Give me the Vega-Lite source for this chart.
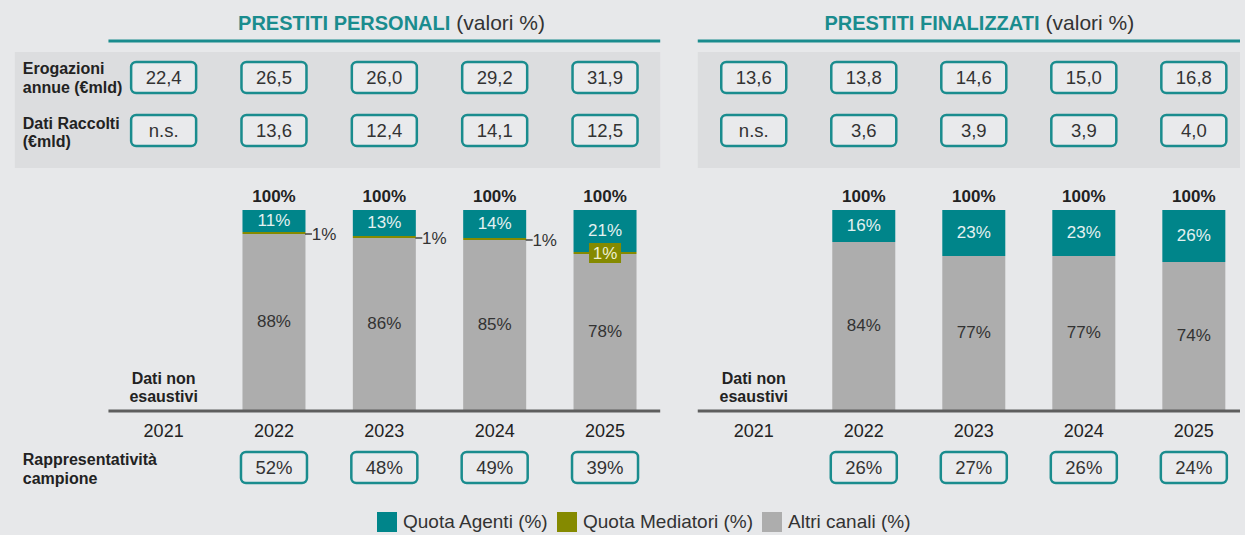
{
  "$schema": "https://vega.github.io/schema/vega-lite/v6.json",
  "background": "#E7E8EA",
  "padding": 0,
  "spacing": 0,
  "config": {
    "font": "Liberation Sans",
    "view": {"stroke": null},
    "axis": {"disable": true},
    "locale": {"number": {"decimal": ",", "thousands": ".", "grouping": [3], "currency": ["€", ""]}}
  },
  "data": {
    "values": [
      {"p": "PERSONALI", "year": 2021, "erog": 22.4, "racc": null, "rappr": null, "agenti": null, "mediatori": null, "altri": null},
      {"p": "PERSONALI", "year": 2022, "erog": 26.5, "racc": 13.6, "rappr": 0.52, "agenti": 0.11, "mediatori": 0.01, "altri": 0.88},
      {"p": "PERSONALI", "year": 2023, "erog": 26.0, "racc": 12.4, "rappr": 0.48, "agenti": 0.13, "mediatori": 0.01, "altri": 0.86},
      {"p": "PERSONALI", "year": 2024, "erog": 29.2, "racc": 14.1, "rappr": 0.49, "agenti": 0.14, "mediatori": 0.01, "altri": 0.85},
      {"p": "PERSONALI", "year": 2025, "erog": 31.9, "racc": 12.5, "rappr": 0.39, "agenti": 0.21, "mediatori": 0.01, "altri": 0.78},
      {"p": "FINALIZZATI", "year": 2021, "erog": 13.6, "racc": null, "rappr": null, "agenti": null, "mediatori": null, "altri": null},
      {"p": "FINALIZZATI", "year": 2022, "erog": 13.8, "racc": 3.6, "rappr": 0.26, "agenti": 0.16, "mediatori": 0, "altri": 0.84},
      {"p": "FINALIZZATI", "year": 2023, "erog": 14.6, "racc": 3.9, "rappr": 0.27, "agenti": 0.23, "mediatori": 0, "altri": 0.77},
      {"p": "FINALIZZATI", "year": 2024, "erog": 15.0, "racc": 3.9, "rappr": 0.26, "agenti": 0.23, "mediatori": 0, "altri": 0.77},
      {"p": "FINALIZZATI", "year": 2025, "erog": 16.8, "racc": 4.0, "rappr": 0.24, "agenti": 0.26, "mediatori": 0, "altri": 0.74}
    ]
  },
  "hconcat": [
    {
      "width": 679,
      "height": 535,
      "transform": [{"filter": "datum.p == 'PERSONALI'"}],
      "resolve": {"scale": {"y": "independent"}},
      "layer": [
        {
          "layer": [
            {
              "transform": [{"filter": "datum.year == 2021"}],
              "mark": {"type": "rect", "fill": "#DCDDDF"},
              "encoding": {
                "x": {"datum": 2019.6518, "type": "quantitative", "scale": {"domain": [2019.5625, 2025.625], "nice": false, "zero": false}},
                "x2": {"datum": 2025.5},
                "y": {"datum": 1.79, "type": "quantitative", "scale": {"domain": [-0.625, 2.05], "nice": false, "zero": false}},
                "y2": {"datum": 1.21}
              }
            },
            {
              "transform": [{"filter": "datum.year == 2021"}],
              "mark": {"type": "rule", "stroke": "#1A8C8E", "strokeWidth": 3},
              "encoding": {
                "x": {"datum": 2020.5, "type": "quantitative", "scale": {"domain": [2019.5625, 2025.625], "nice": false, "zero": false}},
                "x2": {"datum": 2025.5},
                "y": {"datum": 1.845, "type": "quantitative", "scale": {"domain": [-0.625, 2.05], "nice": false, "zero": false}}
              }
            },
            {
              "transform": [{"filter": "datum.year == 2021"}],
              "mark": {"type": "text", "align": "right", "baseline": "middle", "dx": -2, "fontSize": 20, "fontWeight": "bold", "color": "#1A8C8E"},
              "encoding": {
                "x": {"datum": 2023.6161, "type": "quantitative", "scale": {"domain": [2019.5625, 2025.625], "nice": false, "zero": false}},
                "y": {"datum": 1.9325, "type": "quantitative", "scale": {"domain": [-0.625, 2.05], "nice": false, "zero": false}},
                "text": {"value": "PRESTITI PERSONALI"}
              }
            },
            {
              "transform": [{"filter": "datum.year == 2021"}],
              "mark": {"type": "text", "align": "left", "baseline": "middle", "dx": 4, "fontSize": 21, "color": "#333333"},
              "encoding": {
                "x": {"datum": 2023.6161, "type": "quantitative", "scale": {"domain": [2019.5625, 2025.625], "nice": false, "zero": false}},
                "y": {"datum": 1.9325, "type": "quantitative", "scale": {"domain": [-0.625, 2.05], "nice": false, "zero": false}},
                "text": {"value": "(valori %)"}
              }
            },
            {
              "transform": [{"filter": "datum.year == 2021"}],
              "mark": {"type": "text", "align": "left", "baseline": "middle", "dy": -9, "fontSize": 16, "fontWeight": "bold", "lineHeight": 18.5, "color": "#222222"},
              "encoding": {
                "x": {"datum": 2019.7232, "type": "quantitative", "scale": {"domain": [2019.5625, 2025.625], "nice": false, "zero": false}},
                "y": {"datum": 1.66, "type": "quantitative", "scale": {"domain": [-0.625, 2.05], "nice": false, "zero": false}},
                "text": {"value": ["Erogazioni", "annue (€mld)"]}
              }
            },
            {
              "transform": [{"filter": "datum.year == 2021"}],
              "mark": {"type": "text", "align": "left", "baseline": "middle", "dy": -9, "fontSize": 16, "fontWeight": "bold", "lineHeight": 18.5, "color": "#222222"},
              "encoding": {
                "x": {"datum": 2019.7232, "type": "quantitative", "scale": {"domain": [2019.5625, 2025.625], "nice": false, "zero": false}},
                "y": {"datum": 1.3875, "type": "quantitative", "scale": {"domain": [-0.625, 2.05], "nice": false, "zero": false}},
                "text": {"value": ["Dati Raccolti", "(€mld)"]}
              }
            },
            {
              "transform": [{"filter": "datum.year == 2021"}],
              "mark": {"type": "text", "align": "left", "baseline": "middle", "dy": -9, "fontSize": 16, "fontWeight": "bold", "lineHeight": 18.5, "color": "#222222"},
              "encoding": {
                "x": {"datum": 2019.7232, "type": "quantitative", "scale": {"domain": [2019.5625, 2025.625], "nice": false, "zero": false}},
                "y": {"datum": -0.295, "type": "quantitative", "scale": {"domain": [-0.625, 2.05], "nice": false, "zero": false}},
                "text": {"value": ["Rappresentatività", "campione"]}
              }
            },
            {
              "mark": {"type": "bar", "size": 65, "cornerRadius": 5, "fill": "#E9EAEC", "stroke": "#1A8C8E", "strokeWidth": 2.5},
              "encoding": {
                "x": {"field": "year", "type": "quantitative", "scale": {"domain": [2019.5625, 2025.625], "nice": false, "zero": false}},
                "y": {"datum": 1.74, "type": "quantitative", "scale": {"domain": [-0.625, 2.05], "nice": false, "zero": false}},
                "y2": {"datum": 1.585}
              }
            },
            {
              "mark": {"type": "text", "baseline": "middle", "fontSize": 18.5, "color": "#333333"},
              "encoding": {
                "x": {"field": "year", "type": "quantitative", "scale": {"domain": [2019.5625, 2025.625], "nice": false, "zero": false}},
                "y": {"datum": 1.6625, "type": "quantitative", "scale": {"domain": [-0.625, 2.05], "nice": false, "zero": false}},
                "text": {"field": "erog", "type": "quantitative", "format": ".1f"}
              }
            },
            {
              "mark": {"type": "bar", "size": 65, "cornerRadius": 5, "fill": "#E9EAEC", "stroke": "#1A8C8E", "strokeWidth": 2.5},
              "encoding": {
                "x": {"field": "year", "type": "quantitative", "scale": {"domain": [2019.5625, 2025.625], "nice": false, "zero": false}},
                "y": {"datum": 1.475, "type": "quantitative", "scale": {"domain": [-0.625, 2.05], "nice": false, "zero": false}},
                "y2": {"datum": 1.32}
              }
            },
            {
              "mark": {"type": "text", "baseline": "middle", "fontSize": 18.5, "color": "#333333"},
              "encoding": {
                "x": {"field": "year", "type": "quantitative", "scale": {"domain": [2019.5625, 2025.625], "nice": false, "zero": false}},
                "y": {"datum": 1.3975, "type": "quantitative", "scale": {"domain": [-0.625, 2.05], "nice": false, "zero": false}},
                "text": {"condition": {"test": "!isValid(datum.racc)", "value": "n.s."}, "field": "racc", "type": "quantitative", "format": ".1f"}
              }
            },
            {
              "transform": [
                {"filter": "isValid(datum.agenti)"},
                {"fold": ["altri", "mediatori", "agenti"], "as": ["series", "value"]},
                {"stack": "value", "groupby": ["year"], "as": ["v0", "v1"]}
              ],
              "mark": {"type": "bar", "size": 63},
              "encoding": {
                "x": {"field": "year", "type": "quantitative", "scale": {"domain": [2019.5625, 2025.625], "nice": false, "zero": false}},
                "y": {"field": "v0", "type": "quantitative", "scale": {"domain": [-0.625, 2.05], "nice": false, "zero": false}},
                "y2": {"field": "v1"},
                "color": {
                  "field": "series", "type": "nominal",
                  "scale": {"domain": ["agenti", "mediatori", "altri"], "range": ["#00858A", "#858A00", "#ADADAD"]},
                  "legend": {
                    "orient": "none", "legendX": 377, "legendY": 512, "direction": "horizontal", "title": null,
                    "symbolType": "square", "symbolSize": 400, "symbolStrokeWidth": 0, "symbolOpacity": 1,
                    "labelFontSize": 19, "labelColor": "#333333", "labelOffset": 6, "columnPadding": 8, "padding": 0, "labelLimit": 400,
                    "labelExpr": "datum.value == 'agenti' ? 'Quota Agenti (%)' : datum.value == 'mediatori' ? 'Quota Mediatori (%)' : 'Altri canali (%)'"
                  }
                }
              }
            },
            {
              "transform": [{"filter": "isValid(datum.agenti)"}],
              "mark": {"type": "text", "baseline": "middle", "fontSize": 17, "fontWeight": "bold", "color": "#222222"},
              "encoding": {
                "x": {"field": "year", "type": "quantitative", "scale": {"domain": [2019.5625, 2025.625], "nice": false, "zero": false}},
                "y": {"datum": 1.0675, "type": "quantitative", "scale": {"domain": [-0.625, 2.05], "nice": false, "zero": false}},
                "text": {"value": "100%"}
              }
            },
            {
              "transform": [{"filter": "datum.mediatori > 0 && datum.year < 2025"}],
              "mark": {"type": "rule", "xOffset": 31, "x2Offset": 38, "stroke": "#444444", "strokeWidth": 1.5},
              "encoding": {
                "x": {"field": "year", "type": "quantitative", "scale": {"domain": [2019.5625, 2025.625], "nice": false, "zero": false}},
                "x2": {"field": "year"},
                "y": {"field": "altri", "type": "quantitative", "scale": {"domain": [-0.625, 2.05], "nice": false, "zero": false}}
              }
            },
            {
              "transform": [{"filter": "datum.mediatori > 0 && datum.year < 2025"}],
              "mark": {"type": "text", "baseline": "middle", "dx": 50, "dy": 1, "fontSize": 17, "color": "#333333"},
              "encoding": {
                "x": {"field": "year", "type": "quantitative", "scale": {"domain": [2019.5625, 2025.625], "nice": false, "zero": false}},
                "y": {"field": "altri", "type": "quantitative", "scale": {"domain": [-0.625, 2.05], "nice": false, "zero": false}},
                "text": {"field": "mediatori", "type": "quantitative", "format": ".0%"}
              }
            },
            {
              "transform": [{"filter": "datum.mediatori > 0 && datum.year == 2025"}],
              "mark": {"type": "point", "shape": "M-1.6,-1H1.6V1H-1.6Z", "size": 400, "filled": true, "fill": "#858A00", "opacity": 1, "strokeWidth": 0, "yOffset": -1},
              "encoding": {
                "x": {"field": "year", "type": "quantitative", "scale": {"domain": [2019.5625, 2025.625], "nice": false, "zero": false}},
                "y": {"field": "altri", "type": "quantitative", "scale": {"domain": [-0.625, 2.05], "nice": false, "zero": false}}
              }
            },
            {
              "transform": [{"filter": "datum.mediatori > 0 && datum.year == 2025"}],
              "mark": {"type": "text", "baseline": "middle", "fontSize": 17, "color": "#EEEFD0"},
              "encoding": {
                "x": {"field": "year", "type": "quantitative", "scale": {"domain": [2019.5625, 2025.625], "nice": false, "zero": false}},
                "y": {"field": "altri", "type": "quantitative", "scale": {"domain": [-0.625, 2.05], "nice": false, "zero": false}},
                "text": {"field": "mediatori", "type": "quantitative", "format": ".0%"}
              }
            },
            {
              "transform": [{"filter": "datum.year == 2021"}],
              "mark": {"type": "rule", "stroke": "#5E5E5E", "strokeWidth": 3},
              "encoding": {
                "x": {"datum": 2020.5, "type": "quantitative", "scale": {"domain": [2019.5625, 2025.625], "nice": false, "zero": false}},
                "x2": {"datum": 2025.5},
                "y": {"datum": -0.005, "type": "quantitative", "scale": {"domain": [-0.625, 2.05], "nice": false, "zero": false}}
              }
            },
            {
              "mark": {"type": "text", "baseline": "middle", "fontSize": 18, "color": "#222222"},
              "encoding": {
                "x": {"field": "year", "type": "quantitative", "scale": {"domain": [2019.5625, 2025.625], "nice": false, "zero": false}},
                "y": {"datum": -0.1075, "type": "quantitative", "scale": {"domain": [-0.625, 2.05], "nice": false, "zero": false}},
                "text": {"field": "year", "type": "nominal"}
              }
            },
            {
              "transform": [{"filter": "datum.year == 2021"}],
              "mark": {"type": "text", "baseline": "middle", "dy": -9, "fontSize": 16, "fontWeight": "bold", "lineHeight": 18, "color": "#222222"},
              "encoding": {
                "x": {"datum": 2021, "type": "quantitative", "scale": {"domain": [2019.5625, 2025.625], "nice": false, "zero": false}},
                "y": {"datum": 0.11, "type": "quantitative", "scale": {"domain": [-0.625, 2.05], "nice": false, "zero": false}},
                "text": {"value": ["Dati non", "esaustivi"]}
              }
            },
            {
              "transform": [{"filter": "isValid(datum.rappr)"}],
              "mark": {"type": "bar", "size": 66, "cornerRadius": 5, "fill": "#E9EAEC", "stroke": "#1A8C8E", "strokeWidth": 2.5},
              "encoding": {
                "x": {"field": "year", "type": "quantitative", "scale": {"domain": [2019.5625, 2025.625], "nice": false, "zero": false}},
                "y": {"datum": -0.21, "type": "quantitative", "scale": {"domain": [-0.625, 2.05], "nice": false, "zero": false}},
                "y2": {"datum": -0.365}
              }
            },
            {
              "transform": [{"filter": "isValid(datum.rappr)"}],
              "mark": {"type": "text", "baseline": "middle", "fontSize": 18.5, "color": "#333333"},
              "encoding": {
                "x": {"field": "year", "type": "quantitative", "scale": {"domain": [2019.5625, 2025.625], "nice": false, "zero": false}},
                "y": {"datum": -0.2875, "type": "quantitative", "scale": {"domain": [-0.625, 2.05], "nice": false, "zero": false}},
                "text": {"field": "rappr", "type": "quantitative", "format": ".0%"}
              }
            }
          ]
        },
        {
          "transform": [{"filter": "isValid(datum.agenti)"}],
          "mark": {"type": "text", "baseline": "middle", "fontSize": 17, "color": "#E4F1F1"},
          "encoding": {
            "x": {"field": "year", "type": "quantitative", "scale": {"domain": [2019.5625, 2025.625], "nice": false, "zero": false}},
            "y": {"field": "agenti", "type": "quantitative", "scale": {"domain": [-2.1, 3.25], "reverse": true, "nice": false, "zero": false}},
            "text": {"field": "agenti", "type": "quantitative", "format": ".0%"}
          }
        },
        {
          "transform": [{"filter": "isValid(datum.altri)"}],
          "mark": {"type": "text", "baseline": "middle", "fontSize": 17, "color": "#333333"},
          "encoding": {
            "x": {"field": "year", "type": "quantitative", "scale": {"domain": [2019.5625, 2025.625], "nice": false, "zero": false}},
            "y": {"field": "altri", "type": "quantitative", "scale": {"domain": [-1.25, 4.1], "nice": false, "zero": false}},
            "text": {"field": "altri", "type": "quantitative", "format": ".0%"}
          }
        }
      ]
    },
    {
      "width": 566,
      "height": 535,
      "transform": [{"filter": "datum.p == 'FINALIZZATI'"}],
      "resolve": {"scale": {"y": "independent"}},
      "layer": [
        {
          "layer": [
            {
              "transform": [{"filter": "datum.year == 2021"}],
              "mark": {"type": "rect", "fill": "#DCDDDF"},
              "encoding": {
                "x": {"datum": 2020.491, "type": "quantitative", "scale": {"domain": [2020.366, 2025.4196], "nice": false, "zero": false}},
                "x2": {"datum": 2025.4196},
                "y": {"datum": 1.79, "type": "quantitative", "scale": {"domain": [-0.625, 2.05], "nice": false, "zero": false}},
                "y2": {"datum": 1.21}
              }
            },
            {
              "transform": [{"filter": "datum.year == 2021"}],
              "mark": {"type": "rule", "stroke": "#1A8C8E", "strokeWidth": 3},
              "encoding": {
                "x": {"datum": 2020.491, "type": "quantitative", "scale": {"domain": [2020.366, 2025.4196], "nice": false, "zero": false}},
                "x2": {"datum": 2025.4196},
                "y": {"datum": 1.845, "type": "quantitative", "scale": {"domain": [-0.625, 2.05], "nice": false, "zero": false}}
              }
            },
            {
              "transform": [{"filter": "datum.year == 2021"}],
              "mark": {"type": "text", "align": "right", "baseline": "middle", "dx": -2, "fontSize": 20, "fontWeight": "bold", "color": "#1A8C8E"},
              "encoding": {
                "x": {"datum": 2023.616, "type": "quantitative", "scale": {"domain": [2020.366, 2025.4196], "nice": false, "zero": false}},
                "y": {"datum": 1.9325, "type": "quantitative", "scale": {"domain": [-0.625, 2.05], "nice": false, "zero": false}},
                "text": {"value": "PRESTITI FINALIZZATI"}
              }
            },
            {
              "transform": [{"filter": "datum.year == 2021"}],
              "mark": {"type": "text", "align": "left", "baseline": "middle", "dx": 4, "fontSize": 21, "color": "#333333"},
              "encoding": {
                "x": {"datum": 2023.616, "type": "quantitative", "scale": {"domain": [2020.366, 2025.4196], "nice": false, "zero": false}},
                "y": {"datum": 1.9325, "type": "quantitative", "scale": {"domain": [-0.625, 2.05], "nice": false, "zero": false}},
                "text": {"value": "(valori %)"}
              }
            },
            {
              "mark": {"type": "bar", "size": 65, "cornerRadius": 5, "fill": "#E9EAEC", "stroke": "#1A8C8E", "strokeWidth": 2.5},
              "encoding": {
                "x": {"field": "year", "type": "quantitative", "scale": {"domain": [2020.366, 2025.4196], "nice": false, "zero": false}},
                "y": {"datum": 1.74, "type": "quantitative", "scale": {"domain": [-0.625, 2.05], "nice": false, "zero": false}},
                "y2": {"datum": 1.585}
              }
            },
            {
              "mark": {"type": "text", "baseline": "middle", "fontSize": 18.5, "color": "#333333"},
              "encoding": {
                "x": {"field": "year", "type": "quantitative", "scale": {"domain": [2020.366, 2025.4196], "nice": false, "zero": false}},
                "y": {"datum": 1.6625, "type": "quantitative", "scale": {"domain": [-0.625, 2.05], "nice": false, "zero": false}},
                "text": {"field": "erog", "type": "quantitative", "format": ".1f"}
              }
            },
            {
              "mark": {"type": "bar", "size": 65, "cornerRadius": 5, "fill": "#E9EAEC", "stroke": "#1A8C8E", "strokeWidth": 2.5},
              "encoding": {
                "x": {"field": "year", "type": "quantitative", "scale": {"domain": [2020.366, 2025.4196], "nice": false, "zero": false}},
                "y": {"datum": 1.475, "type": "quantitative", "scale": {"domain": [-0.625, 2.05], "nice": false, "zero": false}},
                "y2": {"datum": 1.32}
              }
            },
            {
              "mark": {"type": "text", "baseline": "middle", "fontSize": 18.5, "color": "#333333"},
              "encoding": {
                "x": {"field": "year", "type": "quantitative", "scale": {"domain": [2020.366, 2025.4196], "nice": false, "zero": false}},
                "y": {"datum": 1.3975, "type": "quantitative", "scale": {"domain": [-0.625, 2.05], "nice": false, "zero": false}},
                "text": {"condition": {"test": "!isValid(datum.racc)", "value": "n.s."}, "field": "racc", "type": "quantitative", "format": ".1f"}
              }
            },
            {
              "transform": [
                {"filter": "isValid(datum.agenti)"},
                {"fold": ["altri", "mediatori", "agenti"], "as": ["series", "value"]},
                {"stack": "value", "groupby": ["year"], "as": ["v0", "v1"]}
              ],
              "mark": {"type": "bar", "size": 63},
              "encoding": {
                "x": {"field": "year", "type": "quantitative", "scale": {"domain": [2020.366, 2025.4196], "nice": false, "zero": false}},
                "y": {"field": "v0", "type": "quantitative", "scale": {"domain": [-0.625, 2.05], "nice": false, "zero": false}},
                "y2": {"field": "v1"},
                "color": {
                  "field": "series", "type": "nominal",
                  "scale": {"domain": ["agenti", "mediatori", "altri"], "range": ["#00858A", "#858A00", "#ADADAD"]},
                  "legend": {
                    "orient": "none", "legendX": 377, "legendY": 512, "direction": "horizontal", "title": null,
                    "symbolType": "square", "symbolSize": 400, "symbolStrokeWidth": 0, "symbolOpacity": 1,
                    "labelFontSize": 19, "labelColor": "#333333", "labelOffset": 6, "columnPadding": 8, "padding": 0, "labelLimit": 400,
                    "labelExpr": "datum.value == 'agenti' ? 'Quota Agenti (%)' : datum.value == 'mediatori' ? 'Quota Mediatori (%)' : 'Altri canali (%)'"
                  }
                }
              }
            },
            {
              "transform": [{"filter": "isValid(datum.agenti)"}],
              "mark": {"type": "text", "baseline": "middle", "fontSize": 17, "fontWeight": "bold", "color": "#222222"},
              "encoding": {
                "x": {"field": "year", "type": "quantitative", "scale": {"domain": [2020.366, 2025.4196], "nice": false, "zero": false}},
                "y": {"datum": 1.0675, "type": "quantitative", "scale": {"domain": [-0.625, 2.05], "nice": false, "zero": false}},
                "text": {"value": "100%"}
              }
            },
            {
              "transform": [{"filter": "datum.year == 2021"}],
              "mark": {"type": "rule", "stroke": "#5E5E5E", "strokeWidth": 3},
              "encoding": {
                "x": {"datum": 2020.491, "type": "quantitative", "scale": {"domain": [2020.366, 2025.4196], "nice": false, "zero": false}},
                "x2": {"datum": 2025.4196},
                "y": {"datum": -0.005, "type": "quantitative", "scale": {"domain": [-0.625, 2.05], "nice": false, "zero": false}}
              }
            },
            {
              "mark": {"type": "text", "baseline": "middle", "fontSize": 18, "color": "#222222"},
              "encoding": {
                "x": {"field": "year", "type": "quantitative", "scale": {"domain": [2020.366, 2025.4196], "nice": false, "zero": false}},
                "y": {"datum": -0.1075, "type": "quantitative", "scale": {"domain": [-0.625, 2.05], "nice": false, "zero": false}},
                "text": {"field": "year", "type": "nominal"}
              }
            },
            {
              "transform": [{"filter": "datum.year == 2021"}],
              "mark": {"type": "text", "baseline": "middle", "dy": -9, "fontSize": 16, "fontWeight": "bold", "lineHeight": 18, "color": "#222222"},
              "encoding": {
                "x": {"datum": 2021, "type": "quantitative", "scale": {"domain": [2020.366, 2025.4196], "nice": false, "zero": false}},
                "y": {"datum": 0.11, "type": "quantitative", "scale": {"domain": [-0.625, 2.05], "nice": false, "zero": false}},
                "text": {"value": ["Dati non", "esaustivi"]}
              }
            },
            {
              "transform": [{"filter": "isValid(datum.rappr)"}],
              "mark": {"type": "bar", "size": 66, "cornerRadius": 5, "fill": "#E9EAEC", "stroke": "#1A8C8E", "strokeWidth": 2.5},
              "encoding": {
                "x": {"field": "year", "type": "quantitative", "scale": {"domain": [2020.366, 2025.4196], "nice": false, "zero": false}},
                "y": {"datum": -0.21, "type": "quantitative", "scale": {"domain": [-0.625, 2.05], "nice": false, "zero": false}},
                "y2": {"datum": -0.365}
              }
            },
            {
              "transform": [{"filter": "isValid(datum.rappr)"}],
              "mark": {"type": "text", "baseline": "middle", "fontSize": 18.5, "color": "#333333"},
              "encoding": {
                "x": {"field": "year", "type": "quantitative", "scale": {"domain": [2020.366, 2025.4196], "nice": false, "zero": false}},
                "y": {"datum": -0.2875, "type": "quantitative", "scale": {"domain": [-0.625, 2.05], "nice": false, "zero": false}},
                "text": {"field": "rappr", "type": "quantitative", "format": ".0%"}
              }
            }
          ]
        },
        {
          "transform": [{"filter": "isValid(datum.agenti)"}],
          "mark": {"type": "text", "baseline": "middle", "fontSize": 17, "color": "#E4F1F1"},
          "encoding": {
            "x": {"field": "year", "type": "quantitative", "scale": {"domain": [2020.366, 2025.4196], "nice": false, "zero": false}},
            "y": {"field": "agenti", "type": "quantitative", "scale": {"domain": [-2.1, 3.25], "reverse": true, "nice": false, "zero": false}},
            "text": {"field": "agenti", "type": "quantitative", "format": ".0%"}
          }
        },
        {
          "transform": [{"filter": "isValid(datum.altri)"}],
          "mark": {"type": "text", "baseline": "middle", "fontSize": 17, "color": "#333333"},
          "encoding": {
            "x": {"field": "year", "type": "quantitative", "scale": {"domain": [2020.366, 2025.4196], "nice": false, "zero": false}},
            "y": {"field": "altri", "type": "quantitative", "scale": {"domain": [-1.25, 4.1], "nice": false, "zero": false}},
            "text": {"field": "altri", "type": "quantitative", "format": ".0%"}
          }
        }
      ]
    }
  ]
}
